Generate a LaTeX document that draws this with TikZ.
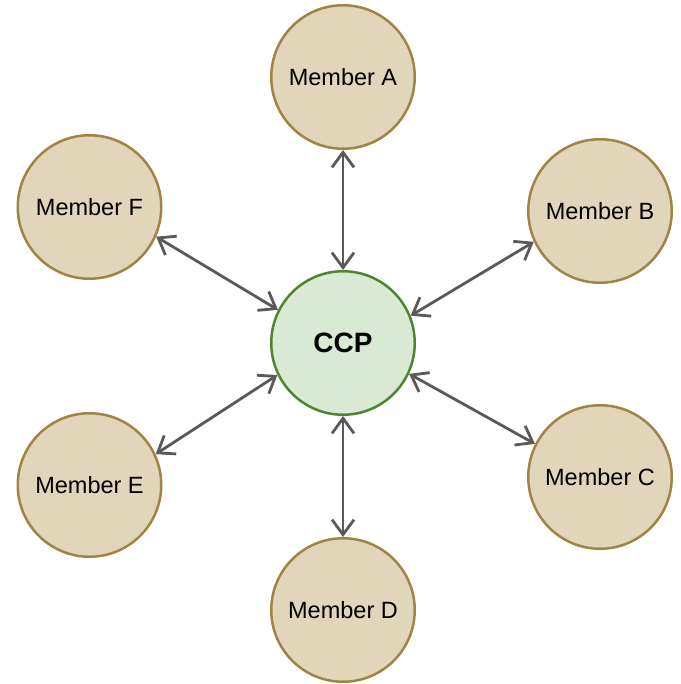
\documentclass[tikz,border=0pt]{standalone}
\usepackage{fontspec}
\setmainfont{Liberation Sans}
\usetikzlibrary{arrows.meta}
\definecolor{memberfill}{HTML}{E1D5BA}
\definecolor{memberline}{HTML}{A08446}
\definecolor{ccpfill}{HTML}{D8EAD3}
\definecolor{ccpline}{HTML}{548235}
\definecolor{linkgray}{HTML}{595959}
\begin{document}
\begin{tikzpicture}[x=1pt,y=-1pt,
  member/.style={circle,draw=memberline,fill=memberfill,line width=2.5pt,
    minimum size=143.5pt,inner sep=0pt,font=\fontsize{23.5}{27}\selectfont},
  hub/.style={circle,draw=ccpline,fill=ccpfill,line width=2.5pt,
    minimum size=143.5pt,inner sep=0pt,font=\fontsize{28}{32}\selectfont\bfseries},
  link/.style={draw=linkgray,line width=2.8pt,
    {Straight Barb[length=15pt,width=22pt]}-{Straight Barb[length=15pt,width=22pt]}}]
\useasboundingbox (0,0) rectangle (680,684);
\node[hub] (ccp) at (343,343) {CCP};
\node[member] (a) at (343,77) {Member A};
\node[member] (b) at (600,211) {Member B};
\node[member] (c) at (600,477) {Member C};
\node[member] (d) at (343,610) {Member D};
\node[member] (e) at (89.5,485) {Member E};
\node[member] (f) at (89.5,207) {Member F};
\draw[link] (a.south) -- (ccp.north);
\draw[link] (b.205.5) -- (ccp.22.6);
\draw[link] (c.153.4) -- (ccp.335.4);
\draw[link] (ccp.south) -- (d.north);
\draw[link] (e.25) -- (ccp.206.6);
\draw[link] (f.336.4) -- (ccp.153.4);
\end{tikzpicture}
\end{document}
